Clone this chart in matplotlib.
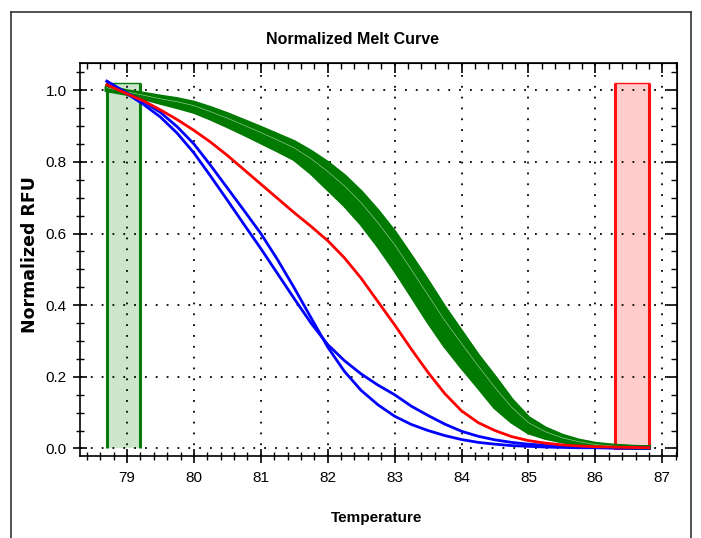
import matplotlib
matplotlib.use("Agg")
import matplotlib.pyplot as plt
from matplotlib.ticker import MultipleLocator, FormatStrFormatter, NullFormatter
from matplotlib import font_manager
from matplotlib.lines import Line2D

names = {f.name for f in font_manager.fontManager.ttflist}
NARROW = "Liberation Sans Narrow" if "Liberation Sans Narrow" in names else "Liberation Sans"

# ---------------- data ----------------
temperature = [78.7, 79.0, 79.25, 79.5, 79.75, 80.0, 80.25, 80.5, 80.75, 81.0, 81.25,
               81.5, 81.75, 82.0, 82.25, 82.5, 82.75, 83.0, 83.25, 83.5, 83.75,
               84.0, 84.25, 84.5, 84.75, 85.0, 85.25, 85.5, 85.75, 86.0, 86.25,
               86.5, 86.8]

green_upper = [1.010, 0.997, 0.990, 0.982, 0.975, 0.965, 0.950, 0.933, 0.914, 0.895, 0.875,
               0.855, 0.828, 0.797, 0.760, 0.715, 0.662, 0.603, 0.535, 0.465, 0.392,
               0.325, 0.258, 0.198, 0.135, 0.085, 0.056, 0.036, 0.022, 0.013, 0.008,
               0.005, 0.003]
green_mid1 = [1.007, 0.995, 0.986, 0.976, 0.968, 0.957, 0.940, 0.922, 0.902, 0.882, 0.861,
              0.839, 0.809, 0.773, 0.733, 0.686, 0.630, 0.569, 0.499, 0.428, 0.357,
              0.293, 0.230, 0.170, 0.115, 0.072, 0.047, 0.030, 0.019, 0.011, 0.007,
              0.004, 0.003]
green_mid2 = [1.003, 0.992, 0.982, 0.971, 0.960, 0.948, 0.931, 0.911, 0.890, 0.868, 0.846,
              0.823, 0.790, 0.749, 0.706, 0.657, 0.598, 0.535, 0.464, 0.392, 0.322,
              0.260, 0.200, 0.142, 0.095, 0.058, 0.039, 0.025, 0.016, 0.009, 0.006,
              0.004, 0.002]
green_lower = [1.000, 0.990, 0.978, 0.965, 0.953, 0.940, 0.921, 0.900, 0.878, 0.855, 0.832,
               0.808, 0.770, 0.725, 0.680, 0.628, 0.567, 0.500, 0.428, 0.355, 0.287,
               0.228, 0.172, 0.115, 0.075, 0.045, 0.030, 0.020, 0.012, 0.008, 0.005,
               0.003, 0.002]

red_curve = [1.015, 0.990, 0.970, 0.945, 0.918, 0.888, 0.855, 0.818, 0.778, 0.738, 0.698,
             0.658, 0.620, 0.580, 0.532, 0.475, 0.410, 0.345, 0.277, 0.212, 0.153,
             0.105, 0.072, 0.050, 0.033, 0.022, 0.015, 0.010, 0.007, 0.005, 0.004,
             0.003, 0.002]

blue_a = [1.025, 0.990, 0.960, 0.925, 0.880, 0.825, 0.760, 0.693, 0.625, 0.558, 0.488,
          0.418, 0.350, 0.290, 0.245, 0.208, 0.177, 0.150, 0.118, 0.092, 0.068,
          0.048, 0.034, 0.024, 0.017, 0.012, 0.009, 0.006, 0.004, 0.003, 0.002,
          0.002, 0.001]
blue_b = [1.025, 0.992, 0.968, 0.938, 0.898, 0.850, 0.790, 0.727, 0.664, 0.600, 0.527,
          0.448, 0.365, 0.283, 0.215, 0.162, 0.122, 0.090, 0.067, 0.050, 0.036,
          0.025, 0.017, 0.012, 0.008, 0.006, 0.004, 0.003, 0.002, 0.002, 0.001,
          0.001, 0.001]

green_curves = [green_upper, green_mid1, green_mid2, green_lower]
blue_curves = [blue_a, blue_b]

begin_region = (78.7, 79.2)
end_region = (86.3, 86.8)
region_top = 1.02

x_ticks = [79, 80, 81, 82, 83, 84, 85, 86, 87]
y_ticks = [0.0, 0.2, 0.4, 0.6, 0.8, 1.0]

# ---------------- figure ----------------
W, H = 701, 538
fig = plt.figure(figsize=(W / 100, H / 100), dpi=100)
fig.patch.set_facecolor("white")

# outer frame (left, top, right)
fx0, fx1, fy0 = 11 / W, 691 / W, 1 - 12 / H
for xs, ys in [([fx0, fx0], [0, fy0]), ([fx0, fx1], [fy0, fy0]), ([fx1, fx1], [fy0, 0])]:
    fig.add_artist(Line2D(xs, ys, transform=fig.transFigure, color="#333333", lw=1.2))

ax = fig.add_axes([79.5 / W, 1 - 456 / H, (677 - 79.5) / W, (456 - 63) / H])
ax.set_xlim(78.29, 87.22)
ax.set_ylim(-0.021, 1.076)

# regions
ax.fill_between(begin_region, 0, region_top, color="#cbe6cb", zorder=1, lw=0)
for xv in begin_region:
    ax.plot([xv, xv], [0, region_top], color="#0a7a0a", lw=2.2, zorder=1.2, solid_capstyle="butt")
ax.plot(begin_region, [region_top, region_top], color="#0a7a0a", lw=1.0, zorder=1.2)

ax.fill_between(end_region, 0, region_top, color="#ffcccc", zorder=1, lw=0)
for xv in end_region:
    ax.plot([xv, xv], [0, region_top], color="#ff1010", lw=2.2, zorder=1.2, solid_capstyle="butt")
ax.plot(end_region, [region_top, region_top], color="#ff1010", lw=1.0, zorder=1.2)
ax.plot(end_region, [0, 0], color="#ff1010", lw=2.2, zorder=1.2)

# grid
ax.grid(True, which="major", color="black", linestyle=(0, (1, 5)), lw=1.3, zorder=1.5)
ax.set_axisbelow(False)

# curves
ax.fill_between(temperature, green_upper, green_lower, color="#007a00", lw=0, zorder=3)
for g in green_curves:
    ax.plot(temperature, g, color="#007a00", lw=3.0, zorder=3)
ax.plot(temperature, green_mid1, color="#8fc88f", lw=0.5, zorder=3.1)
for b in blue_curves:
    ax.plot(temperature, b, color="#0000ff", lw=2.0, zorder=4)
ax.plot(temperature, red_curve, color="#ff0000", lw=2.0, zorder=5)

# ticks (bottom/left cross the axis)
ax.set_xticks(x_ticks)
ax.set_yticks(y_ticks)
ax.xaxis.set_minor_locator(MultipleLocator(0.2))
ax.yaxis.set_minor_locator(MultipleLocator(0.05))
ax.yaxis.set_major_formatter(FormatStrFormatter("%.1f"))
ax.tick_params(axis="x", which="major", direction="inout", length=10, width=1.2, pad=6,
               labelsize=11, labelfontfamily=NARROW)
ax.tick_params(axis="x", which="minor", direction="inout", length=6, width=1.0)
ax.tick_params(axis="y", which="major", direction="inout", length=10, width=1.2, pad=4,
               labelsize=11, labelfontfamily=NARROW)
ax.tick_params(axis="y", which="minor", direction="inout", length=6, width=1.0)
for sp in ax.spines.values():
    sp.set_linewidth(1.2)
    sp.set_color("black")

# top / right ticks pointing inward
top = ax.secondary_xaxis("top")
top.set_xticks(x_ticks)
top.xaxis.set_minor_locator(MultipleLocator(0.2))
top.xaxis.set_major_formatter(NullFormatter())
top.tick_params(which="major", direction="in", length=7, width=1.2)
top.tick_params(which="minor", direction="in", length=4, width=1.0)
right = ax.secondary_yaxis("right")
right.set_yticks(y_ticks)
right.yaxis.set_minor_locator(MultipleLocator(0.05))
right.yaxis.set_major_formatter(NullFormatter())
right.tick_params(which="major", direction="in", length=7, width=1.2)
right.tick_params(which="minor", direction="in", length=4, width=1.0)

fig.text(353 / W, 1 - 40 / H, "Normalized Melt Curve", ha="center", va="center",
         fontsize=11.5, fontweight="bold", family=NARROW)
fig.text(377 / W, 1 - 518 / H, "Temperature", ha="center", va="center",
         fontsize=11, fontweight="bold", family=NARROW)
fig.text(30 / W, 1 - 255 / H, "Normalized RFU", ha="center", va="center", rotation=90,
         fontsize=12.5, fontweight="bold", family="DejaVu Sans")

fig.savefig("out.png", dpi=100)
